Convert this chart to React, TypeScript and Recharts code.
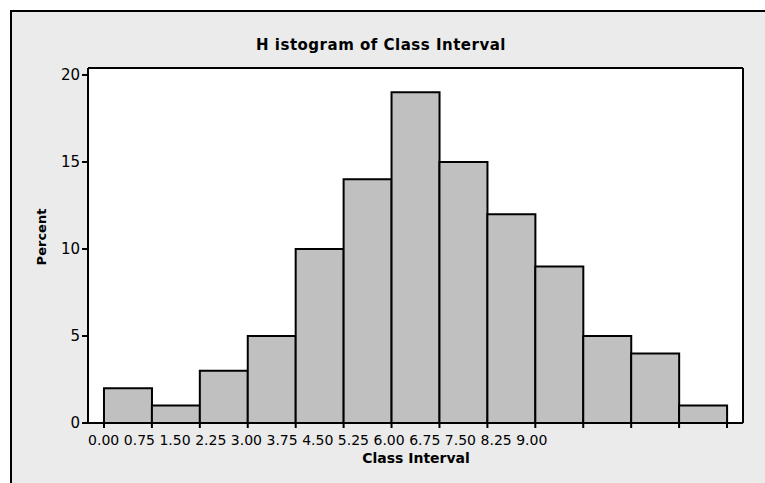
import { BarChart, Bar, XAxis, YAxis, CartesianGrid } from "recharts";

// histogram bins (class interval start) and percent per bin
const binStarts = [0, 0.75, 1.5, 2.25, 3, 3.75, 4.5, 5.25, 6, 6.75, 7.5, 8.25, 9];
const percents = [2, 1, 3, 5, 10, 14, 19, 15, 12, 9, 5, 4, 1];
const binWidth = 0.75;

// axis ticks
const edgeTicks = [0, 0.75, 1.5, 2.25, 3, 3.75, 4.5, 5.25, 6, 6.75, 7.5, 8.25, 9, 9.75];
const labelTicks = [0, 0.75, 1.5, 2.25, 3, 3.75, 4.5, 5.25, 6, 6.75, 7.5, 8.25, 9];
const yTicks = [0, 5, 10, 15, 20];

const data = binStarts.map((s, i) => ({ mid: s + binWidth / 2, percent: percents[i] }));

const FONT = "'DejaVu Sans', Verdana, sans-serif";
const xDomain: [number, number] = [-0.25, 10];
// the printed labels are packed tighter than the bins, so they sit on their own scale
const labelDomain: [number, number] = [-0.33, 13.44];
const yDomain: [number, number] = [0, 20.4];

function HistBar(props: any) {
  const { x, y, width, height } = props;
  if (width == null || height == null) return null;
  return (
    <g>
      <rect x={x} y={y} width={width} height={height} fill="#c0c0c0" />
      <path
        d={`M${x},${y + height} L${x},${y} L${x + width},${y} L${x + width},${y + height}`}
        fill="none"
        stroke="#000"
        strokeWidth={2}
      />
    </g>
  );
}

export default function App() {
  return (
    <div style={{ position: "fixed", left: 0, top: 0, width: 765, height: 483, overflow: "hidden", background: "#fff" }}>
      <div
        style={{
          position: "absolute",
          left: 10,
          top: 10,
          width: 800,
          height: 520,
          background: "#ebebeb",
          border: "2px solid #000",
        }}
      />
      <div
        style={{
          position: "absolute",
          left: 0,
          width: 762,
          top: 37,
          textAlign: "center",
          fontFamily: FONT,
          fontWeight: "bold",
          fontSize: 15,
          letterSpacing: 0.5,
          lineHeight: "17px",
          whiteSpace: "pre",
        }}
      >
        H istogram of Class Interval
      </div>
      <div
        style={{
          position: "absolute",
          left: 42 - 50,
          top: 237 - 8,
          width: 100,
          height: 16,
          lineHeight: "16px",
          textAlign: "center",
          transform: "rotate(-90deg)",
          fontFamily: FONT,
          fontWeight: "bold",
          fontSize: 13,
        }}
      >
        Percent
      </div>
      <div
        style={{
          position: "absolute",
          left: 416 - 100,
          top: 450,
          width: 200,
          textAlign: "center",
          fontFamily: FONT,
          fontWeight: "bold",
          fontSize: 14,
          lineHeight: "16px",
        }}
      >
        Class Interval
      </div>
      <div style={{ position: "absolute", left: 0, top: 0 }}>
        <BarChart
          width={765}
          height={483}
          data={data}
          margin={{ top: 67, right: 21, left: 28, bottom: 29 }}
          barCategoryGap={0}
          barGap={0}
        >
          <CartesianGrid horizontal={false} vertical={false} fill="#fff" />
          <XAxis
            xAxisId="top"
            orientation="top"
            type="number"
            dataKey="mid"
            domain={xDomain}
            allowDataOverflow
            height={1}
            tick={false}
            tickLine={false}
            axisLine={{ stroke: "#000", strokeWidth: 2 }}
          />
          <YAxis
            yAxisId="right"
            orientation="right"
            domain={yDomain}
            allowDataOverflow
            width={1}
            tick={false}
            tickLine={false}
            axisLine={{ stroke: "#000", strokeWidth: 2 }}
          />
          <XAxis
            type="number"
            dataKey="mid"
            domain={xDomain}
            allowDataOverflow
            ticks={edgeTicks}
            interval={0}
            height={6}
            tickSize={5}
            tick={() => null}
            tickLine={{ stroke: "#000", strokeWidth: 2 }}
            axisLine={{ stroke: "#000", strokeWidth: 2 }}
          />
          <XAxis
            xAxisId="labels"
            type="number"
            dataKey="mid"
            domain={labelDomain}
            allowDataOverflow
            ticks={labelTicks}
            interval={0}
            height={25}
            tickSize={0}
            tickMargin={6}
            tickLine={false}
            axisLine={false}
            tickFormatter={(v: number) => v.toFixed(2)}
            tick={{ fill: "#000", fontSize: 14, fontFamily: FONT }}
          />
          <YAxis
            domain={yDomain}
            allowDataOverflow
            ticks={yTicks}
            interval={0}
            width={60}
            tickSize={6}
            tickMargin={2}
            tick={{ fill: "#000", fontSize: 15, fontFamily: FONT }}
            tickLine={{ stroke: "#000", strokeWidth: 2 }}
            axisLine={{ stroke: "#000", strokeWidth: 2 }}
          />
          <Bar dataKey="percent" shape={HistBar} isAnimationActive={false} />
        </BarChart>
      </div>
    </div>
  );
}
